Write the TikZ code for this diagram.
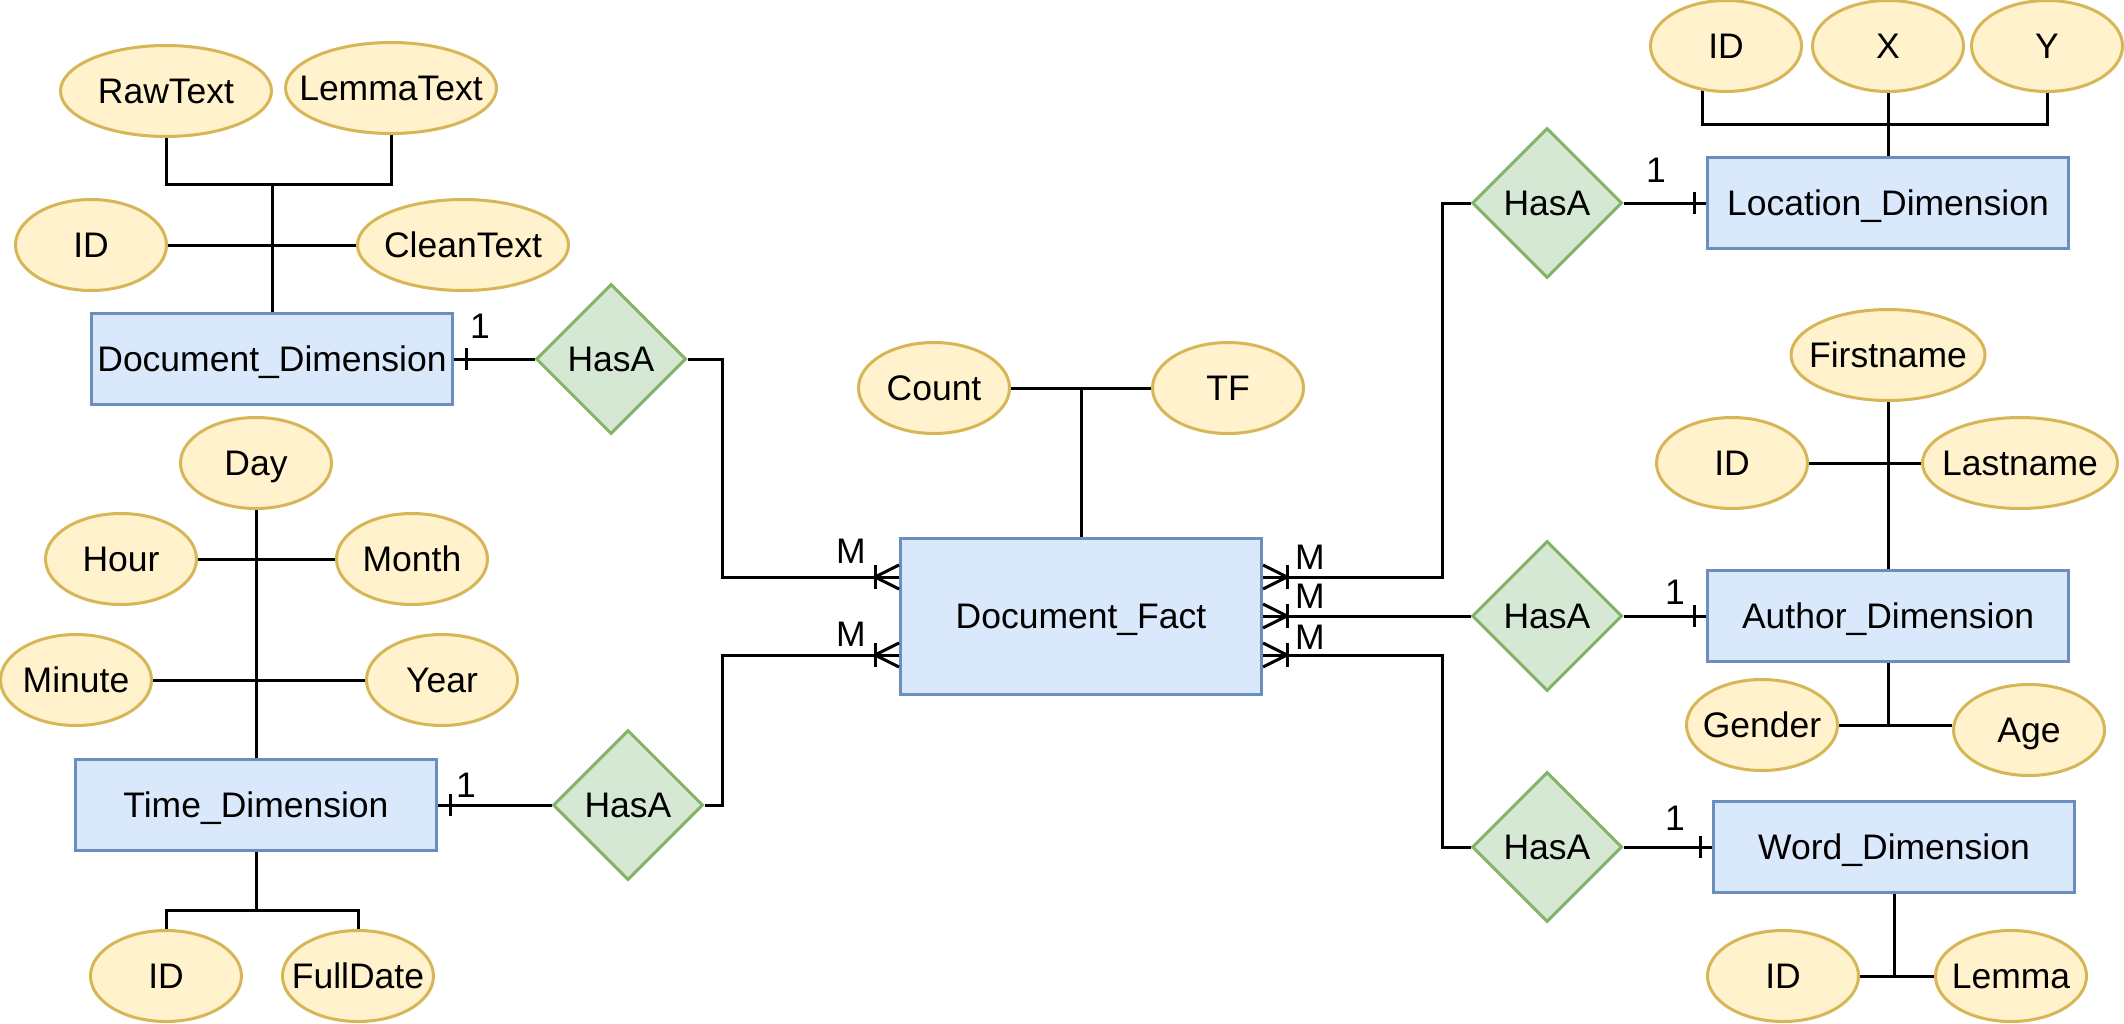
\documentclass[tikz,border=0pt]{standalone}
\usepackage{fontspec}
\setmainfont{Liberation Sans}
\usetikzlibrary{shapes.geometric,calc}
\pgfdeclarelayer{bg}
\pgfsetlayers{bg,main}
\definecolor{attrfill}{HTML}{FFF2CC}
\definecolor{attrdraw}{HTML}{D6B656}
\definecolor{entfill}{HTML}{DAE8FC}
\definecolor{entdraw}{HTML}{6C8EBF}
\definecolor{relfill}{HTML}{D5E8D4}
\definecolor{reldraw}{HTML}{82B366}
\begin{document}
\begin{tikzpicture}[x=0.5pt,y=-0.5pt,
 every node/.style={font=\fontsize{17.75pt}{20pt}\selectfont, text height=12.7pt, text depth=0pt},
 attr/.style={ellipse, draw=attrdraw, fill=attrfill, line width=1.5pt, minimum width=75.5pt, minimum height=45.5pt, inner sep=0pt},
 wide/.style={minimum width=105.5pt},
 ent/.style={rectangle, draw=entdraw, fill=entfill, line width=1.5pt, minimum width=180.5pt, minimum height=45.5pt, inner sep=0pt},
 rel/.style={diamond, draw=reldraw, fill=relfill, line width=1.5pt, minimum width=75pt, minimum height=75pt, inner sep=0pt},
 conn/.style={draw=black, line width=1.5pt},
 card/.style={inner sep=0pt},
 onebar/.pic={\draw[line width=1.5pt] (0,-11) -- (0,11);},
 crowfoot/.pic={\draw[line width=1.5pt] (-24,-12) -- (-24,12); \draw[line width=1.5pt] (0,-12) -- (-24,0) -- (0,12);}
]
\useasboundingbox (0,0) rectangle (2124,1023);

% entities
\node[ent] (docdim) at (272,359) {Document\_Dimension};
\node[ent] (timedim) at (256,805) {Time\_Dimension};
\node[ent, minimum height=78pt] (fact) at (1081,616) {Document\_Fact};
\node[ent] (locdim) at (1888,203) {Location\_Dimension};
\node[ent] (authdim) at (1888,616) {Author\_Dimension};
\node[ent] (worddim) at (1894,847) {Word\_Dimension};

% relations
\node[rel] (r1) at (611,359) {HasA};
\node[rel] (r2) at (628,805) {HasA};
\node[rel] (rloc) at (1547,203) {HasA};
\node[rel] (rauth) at (1547,616) {HasA};
\node[rel] (rword) at (1547,847) {HasA};

% attributes
\node[attr, wide, label=center:RawText] (raw) at (166,91) {};
\node[attr, wide, label=center:LemmaText] (lem) at (391,88) {};
\node[attr, label=center:ID] (id1) at (91,245) {};
\node[attr, wide, label=center:CleanText] (clean) at (463,245) {};
\node[attr, label=center:Day] (day) at (256,463) {};
\node[attr, label=center:Hour] (hour) at (121,559) {};
\node[attr, label=center:Month] (month) at (412,559) {};
\node[attr, label=center:Minute] (minute) at (76,680) {};
\node[attr, label=center:Year] (year) at (442,680) {};
\node[attr, label=center:ID] (id2) at (166,976) {};
\node[attr, label=center:FullDate] (fulldate) at (358,976) {};
\node[attr, label=center:Count] (count) at (934,388) {};
\node[attr, label=center:TF] (tf) at (1228,388) {};
\node[attr, label=center:ID] (id3) at (1726,46) {};
\node[attr, label=center:X] (xx) at (1888,46) {};
\node[attr, label=center:Y] (yy) at (2047,46) {};
\node[attr, minimum width=97pt, label=center:Firstname] (first) at (1888,355) {};
\node[attr, label=center:ID] (id4) at (1732,463) {};
\node[attr, minimum width=97.5pt, label=center:Lastname] (last) at (2020,463) {};
\node[attr, label=center:Gender] (gender) at (1762,725) {};
\node[attr, label=center:Age] (age) at (2029,730) {};
\node[attr, label=center:ID] (id5) at (1783,976) {};
\node[attr, label=center:Lemma] (lemma) at (2011,976) {};

% cardinality labels
\node[card] (c1) at (480,326) {1};
\node[card] (c2) at (466,785) {1};
\node[card] (c3) at (1656,170) {1};
\node[card] (c4) at (1675,592) {1};
\node[card] (c5) at (1675,818) {1};
\node[card] (m1) at (851,551) {M};
\node[card] (m2) at (851,634) {M};
\node[card] (m3) at (1310,557) {M};
\node[card] (m4) at (1310,596) {M};
\node[card] (m5) at (1310,637) {M};

\coordinate (fL1) at ($(fact.west)+(0,-39)$);
\coordinate (fL2) at ($(fact.west)+(0,39)$);
\coordinate (fR1) at ($(fact.east)+(0,-39)$);
\coordinate (fR3) at ($(fact.east)+(0,39)$);
\coordinate (busL) at (722,616);
\coordinate (busR) at (1442,616);
\coordinate (jd) at (272,184);
\coordinate (jt) at (256,910);
\coordinate (jl) at (1888,124);

\begin{pgfonlayer}{bg}
% document dimension
\draw[conn] (raw.south) |- (jd) -| (lem.south);
\draw[conn] (jd) -- (docdim.north);
\draw[conn] (id1.east) -- (clean.west);
% time dimension
\draw[conn] (day.south) -- (timedim.north);
\draw[conn] (hour.east) -- (month.west);
\draw[conn] (minute.east) -- (year.west);
\draw[conn] (timedim.south) -- (jt);
\draw[conn] (id2.north) |- (jt) -| (fulldate.north);
% fact
\draw[conn] (count.east) -- (tf.west);
\draw[conn] (fact.north |- count) -- (fact.north);
% location
\draw[conn] ([xshift=-12pt,yshift=3pt]id3.south) |- (jl) -| (yy.south);
\draw[conn] (xx.south) -- (locdim.north);
% author
\draw[conn] (first.south) -- (authdim.north);
\draw[conn] (id4.east) -- (last.west);
\draw[conn] (authdim.south) -- (authdim.south |- gender.east);
\draw[conn] (gender.east) -- (gender.east -| age.west);
% word
\draw[conn] (worddim.south) -- (worddim.south |- id5.east);
\draw[conn] (id5.east) -- (lemma.west);
% relations
\draw[conn] (docdim.east) -- (r1.west);
\draw[conn] (r1.east) -| (busL |- fL1) -- (fL1);
\draw[conn] (timedim.east) -- (r2.west);
\draw[conn] (r2.east) -| (busL |- fL2) -- (fL2);
\draw[conn] (fR1) -| (busR |- rloc) -- (rloc.west);
\draw[conn] (fact.east) -- (rauth.west);
\draw[conn] (fR3) -| (busR |- rword) -- (rword.west);
\draw[conn] (rloc.east) -- (locdim.west);
\draw[conn] (rauth.east) -- (authdim.west);
\draw[conn] (rword.east) -- (worddim.west);
\end{pgfonlayer}

% end markers
\pic at (fL1) {crowfoot};
\pic at (fL2) {crowfoot};
\pic[xscale=-1] at (fR1) {crowfoot};
\pic[xscale=-1] at (fact.east) {crowfoot};
\pic[xscale=-1] at (fR3) {crowfoot};
\pic at ($(docdim.east)+(12,0)$) {onebar};
\pic at ($(timedim.east)+(12,0)$) {onebar};
\pic at ($(locdim.west)+(-12,0)$) {onebar};
\pic at ($(authdim.west)+(-12,0)$) {onebar};
\pic at ($(worddim.west)+(-12,0)$) {onebar};
\end{tikzpicture}
\end{document}
